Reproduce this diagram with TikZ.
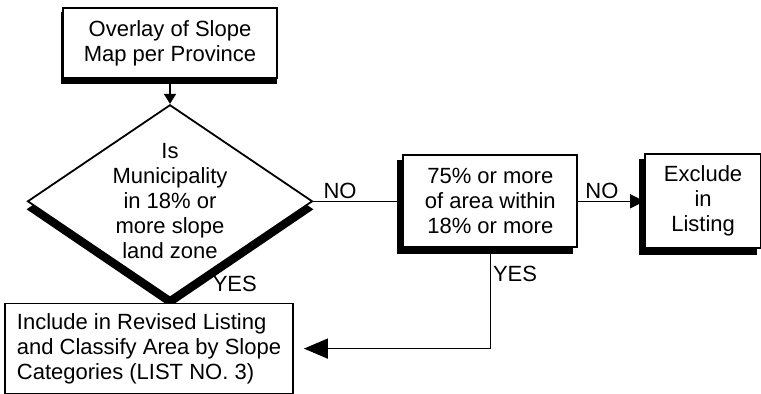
\documentclass[tikz,border=0pt]{standalone}
\usepackage{fontspec}
\setmainfont{Liberation Sans}
\usetikzlibrary{shapes.geometric, arrows.meta, positioning, backgrounds}

\begin{document}
\begin{tikzpicture}[
  x=0.5pt, y=-0.5pt,
  font=\fontsize{11}{12.5}\selectfont,
  process/.style={rectangle, draw=black, line width=0.9pt, fill=white, align=center, inner sep=2pt},
  decision/.style={diamond, draw=black, line width=0.9pt, fill=white, minimum width=142.5pt, minimum height=96.5pt, inner sep=0pt},
  shade/.style={fill=black},
  lbl/.style={font=\fontsize{11}{12.5}\selectfont, inner sep=1pt},
  flow/.style={line width=0.75pt},
]
  \useasboundingbox (0,0) rectangle (761,394);

  \node[process, minimum width=107pt, minimum height=35pt] (overlay) at (170,43) {Overlay of Slope\\Map per Province};
  \node[decision, below=12.5pt of overlay,
    label={[align=center, font=\fontsize{11}{12.5}\selectfont]center:Is\\Municipality\\in 18\% or\\more slope\\land zone}] (slopezone) {};
  \node[process, right=44.5pt of slopezone, minimum width=87pt, minimum height=46pt] (areacheck) {75\% or more\\of area within\\18\% or more};
  \node[process, right=33pt of areacheck, minimum width=58pt, minimum height=47pt] (exclude) {Exclude\\in\\Listing};
  \node[process, below=2pt of slopezone, xshift=-10.5pt, minimum width=144pt, minimum height=45pt, align=left] (include) {Include in Revised Listing\\and Classify Area by Slope\\Categories (LIST NO. 3)};

  % heavy shadows behind the shapes
  \begin{scope}[on background layer]
    \fill[shade] ([shift={(-0.5pt,-2.5pt)}]overlay.south west) rectangle ([shift={(-0.5pt,-2.5pt)}]overlay.north east);
    \fill[shade] ([yshift=-4pt]slopezone.north) -- ([yshift=-4pt]slopezone.east) -- ([yshift=-4pt]slopezone.south) -- ([yshift=-4pt]slopezone.west) -- cycle;
    \fill[shade] ([shift={(-2.5pt,-3pt)}]areacheck.south west) rectangle ([shift={(-2.5pt,-3pt)}]areacheck.north east);
    \fill[shade] ([shift={(-2.5pt,-3pt)}]exclude.south west) rectangle ([shift={(-2.5pt,-3pt)}]exclude.north east);
    \fill[shade] ([yshift=-1pt]include.south west) rectangle ([yshift=-1pt]include.north east);
  \end{scope}

  \draw[flow, -{Triangle[length=5pt, width=6pt]}] (overlay.south) -- (slopezone.north);
  \draw[flow] (slopezone.east) -- node[lbl, above, pos=0.3] {NO} (areacheck.west);
  \draw[flow, -{Triangle[length=7pt, width=7pt]}] (areacheck.east) -- node[lbl, above, pos=0.36] {NO} (exclude.west);
  \draw[flow, -{Triangle[length=12pt, width=10pt]}, shorten >=5pt] (areacheck.south) |- node[lbl, right, pos=0.13] {YES} (include.east);
  \draw[flow] (slopezone.south) -- (slopezone.south |- include.north)
    node[lbl, pos=0, anchor=south west, xshift=20pt, yshift=2pt] {YES};

\end{tikzpicture}
\end{document}
